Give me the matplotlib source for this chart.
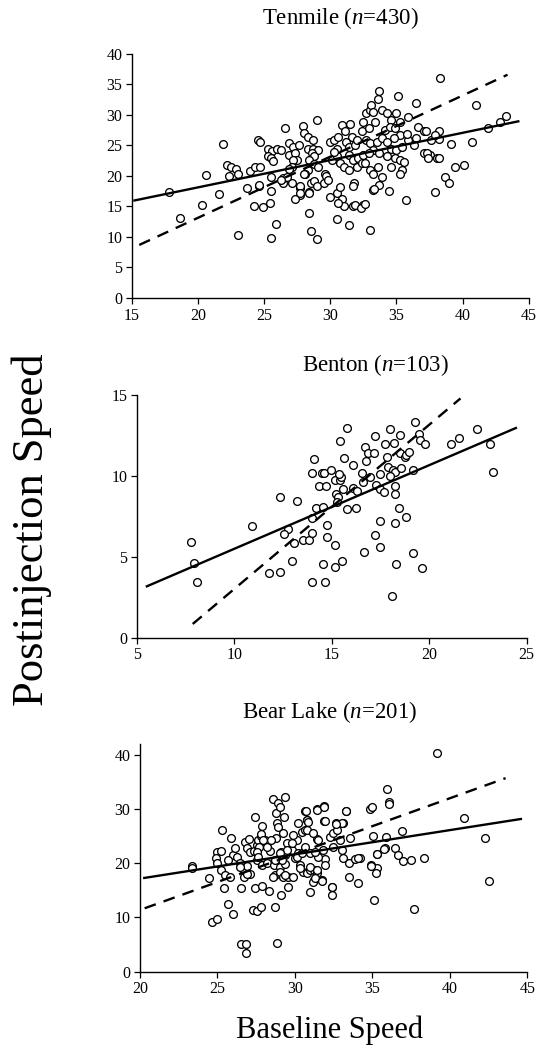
import matplotlib
matplotlib.use("Agg")
import matplotlib.pyplot as plt
import numpy as np

plt.rcParams['font.family'] = ['Liberation Serif', 'DejaVu Serif']
plt.rcParams['mathtext.fontset'] = 'custom'
plt.rcParams['mathtext.rm'] = 'Liberation Serif'
plt.rcParams['mathtext.it'] = 'Liberation Serif:italic'

# ---------------- data ----------------
tenmile_pts = [
(21.9,25.2),(20.6,20.2),(20.3,15.3),(21.6,17.0),(22.2,21.8),(22.5,21.5),(22.9,21.1),(23.0,20.4),(22.3,20.0),(23.0,10.3),
(23.7,18.1),(24.2,15.1),(23.9,20.8),(24.3,21.4),(24.7,21.4),(24.5,25.9),(24.7,25.6),(24.6,18.3),(24.9,14.9),(25.4,15.5),
(25.3,24.4),(25.6,24.1),(26.0,24.5),(26.3,24.2),(25.3,23.2),(25.5,22.9),(25.7,22.5),(25.5,19.8),(25.5,17.5),(25.9,12.1),
(25.5,9.9),(26.6,27.9),(26.4,18.8),(26.4,19.6),(26.9,25.4),(27.2,24.7),(27.6,25.1),(26.9,23.4),(27.3,23.7),(27.5,22.6),
(27.2,22.6),(27.1,21.5),(26.9,21.1),(27.1,18.8),(27.7,18.1),(27.7,16.9),(27.3,16.2),(27.7,18.4),(27.9,28.2),(28.0,27.1),
(28.3,26.4),(28.7,25.9),(28.3,24.5),(28.7,24.5),(29.1,24.3),(28.6,23.7),(28.8,23.3),(28.4,22.6),(28.8,22.0),(29.1,21.5),
(28.3,21.0),(28.1,20.3),(29.0,29.2),(28.5,18.9),(28.8,19.2),(29.0,18.4),(28.4,17.3),(28.4,14.0),(28.5,11.0),(29.0,9.7),
(29.6,20.4),(29.7,20.0),(29.5,18.9),(29.8,19.3),(30.0,25.5),(30.3,25.9),(30.6,26.4),(30.9,28.4),(30.1,22.6),(30.5,23.2),
(30.5,24.5),(30.3,24.0),(30.7,22.1),(31.0,21.5),(30.0,16.6),(30.5,17.2),(30.7,18.2),(30.9,16.2),(31.0,15.0),(30.5,13.0),
(31.4,11.9),(31.1,27.4),(31.5,28.6),(31.6,26.4),(31.2,25.6),(31.4,24.7),(31.9,25.1),(32.0,25.9),(32.4,27.3),(32.5,28.9),
(31.4,23.4),(31.7,22.6),(32.1,22.9),(32.5,23.4),(32.0,21.5),(32.4,22.1),(31.4,21.0),(31.8,18.9),(31.7,18.3),(31.7,15.1),
(31.9,15.3),(32.5,15.2),(32.3,14.7),(32.7,30.3),(33.0,30.8),(33.1,31.6),(33.2,30.5),(32.9,27.8),(33.4,28.9),(33.6,32.7),
(33.7,34.0),(32.7,25.9),(33.0,25.4),(33.5,25.6),(33.9,26.2),(33.2,24.3),(32.9,23.7),(33.7,23.7),(32.6,22.1),(33.0,21.0),
(33.2,20.4),(33.6,21.5),(33.9,19.9),(33.2,17.7),(33.7,18.5),(34.4,17.5),(33.0,11.1),(33.9,30.8),(34.3,30.3),(34.6,29.2),
(35.0,30.4),(35.1,33.1),(34.1,27.5),(34.5,28.1),(34.9,27.8),(35.3,28.9),(35.3,26.7),(34.8,26.2),(34.3,25.6),(34.6,24.5),
(35.0,24.3),(35.4,24.8),(34.3,23.2),(34.9,22.9),(35.3,22.6),(35.6,22.3),(34.6,21.5),(35.4,21.0),(35.3,20.4),(35.7,16.0),
(35.9,29.7),(36.5,31.9),(36.6,28.1),(36.5,26.3),(35.9,25.9),(36.3,25.1),(37.1,27.4),(37.6,25.9),(37.1,23.7),(37.5,23.4),
(37.9,17.4),(38.1,23.0),(38.3,36.0),(41.0,31.6),(43.3,29.9),(42.8,28.8),(41.9,27.8),(40.7,25.6),(39.1,25.3),(38.2,27.3),
(38.2,26.1),(37.2,27.3),(37.9,26.7),(37.3,23.7),(37.4,23.0),(38.2,23.0),(39.4,21.5),(40.1,21.8),(38.7,19.9),(35.8,26.9),
(39.0,18.8),(32.6,15.4),(33.3,17.8),(27.7,17.2),(28.4,17.2),(17.8,17.4),(18.6,13.1),(24.6,18.5),(26.7,19.8),(26.3,19.3),
(28.0,20.4),(30.6,15.5),
]
tenmile_solid_x = [15.1, 44.3]
tenmile_solid_y = [15.95, 29.0]
tenmile_dash_x = [15.55, 43.4]
tenmile_dash_y = [8.7, 36.6]

benton_pts = [
(7.77,5.94),(7.92,4.64),(8.09,3.42),(10.88,6.91),(12.33,8.72),(13.19,8.47),(12.76,6.70),(12.54,6.41),(13.05,5.83),(13.53,6.04),
(13.84,6.04),(12.93,4.76),(11.79,3.98),(12.33,4.08),(13.99,3.46),(13.99,6.49),(14.0,7.38),(14.18,8.0),(13.96,10.2),(14.1,11.07),
(14.35,9.38),(14.64,3.46),(14.55,8.1),(14.47,10.16),(14.6,10.2),(14.98,10.37),(14.72,9.4),(15.44,12.18),(15.78,12.95),(15.63,11.09),
(15.15,9.75),(15.41,9.75),(15.49,9.92),(15.37,10.12),(15.2,8.86),(15.32,8.72),(15.24,8.41),(15.58,9.17),(14.77,6.97),(14.77,6.25),
(15.15,5.73),(14.55,4.54),(15.15,4.39),(15.54,4.74),(16.09,10.68),(16.06,9.24),(16.3,9.09),(15.78,7.94),(16.23,8.0),(16.69,11.8),
(16.86,11.44),(17.15,11.4),(17.2,12.49),(16.74,10.93),(16.57,10.16),(16.95,9.96),(16.6,9.65),(17.29,9.44),(17.46,9.17),(17.66,9.03),
(17.46,10.12),(17.49,7.24),(17.2,6.35),(17.46,5.63),(16.65,5.32),(17.71,11.98),(17.97,12.89),(18.18,12.06),(18.48,12.54),(17.83,11.15),
(17.89,10.53),(18.14,10.37),(18.23,10.27),(18.23,9.38),(18.23,8.86),(18.0,10.0),(18.23,7.11),(18.45,8.0),(18.79,7.48),(18.28,4.54),
(18.09,2.6),(18.57,10.47),(18.48,11.44),(18.74,11.2),(18.83,11.3),(18.96,11.5),(19.17,10.37),(19.25,13.32),(19.48,12.58),(19.51,12.23),
(19.8,11.96),(19.17,5.26),(19.65,4.33),(21.13,11.96),(21.53,12.33),(22.45,12.89),(23.1,11.96),(23.27,10.23),
]
benton_solid_x = [5.45, 24.5]
benton_solid_y = [3.15, 13.0]
benton_dash_x = [7.86, 21.6]
benton_dash_y = [0.85, 14.8]

bear_pts = [
(23.34,19.5),(23.34,19.07),(24.48,17.23),(24.67,9.1),(24.95,9.66),(24.95,22.15),(25.2,22.27),(24.9,20.9),(25.0,20.1),(25.2,18.77),
(25.32,26.15),(25.5,17.84),(25.8,17.53),(25.42,15.5),(25.85,24.73),(25.7,12.5),(26.0,10.6),(26.0,21.5),(26.1,22.76),(26.24,21.2),
(25.7,20.6),(26.45,20.1),(26.67,18.9),(26.9,19.5),(27.1,18.0),(26.52,15.38),(26.5,5.1),(26.84,5.1),(26.84,3.39),(26.78,24.0),
(27.06,24.4),(26.88,22.76),(27.1,22.15),(27.36,22.3),(27.53,23.38),(27.64,24.3),(27.8,25.04),(27.85,26.88),(27.42,28.6),(27.42,15.38),
(27.85,15.81),(27.3,11.4),(27.57,11.2),(27.79,11.88),(27.57,20.6),(27.85,19.7),(28.2,20.1),(28.4,22.3),(28.07,24.3),(28.2,23.7),
(28.35,14.89),(28.71,12.0),(28.86,5.36),(28.6,31.8),(28.93,31.2),(29.36,32.17),(28.78,29.2),(29.04,30.3),(29.32,28.6),(28.86,27.5),
(28.93,26.76),(28.78,24.6),(29.25,25.65),(29.47,23.68),(29.08,22.15),(29.36,21.53),(28.93,20.73),(28.65,19.69),(29.04,19.38),(29.36,19.87),
(28.71,17.84),(29.04,18.46),(29.25,17.53),(29.57,17.53),(29.9,17.53),(29.57,15.69),(29.1,14.15),(29.79,22.45),(30.11,24.3),(30.22,27.37),
(30.43,25.84),(30.65,26.15),(30.76,28.0),(30.65,29.71),(30.22,21.84),(30.0,20.92),(30.33,19.69),(30.54,18.46),(30.76,18.15),(30.97,18.77),
(31.25,18.77),(31.4,18.27),(31.23,16.92),(31.72,16.92),(30.97,14.77),(32.37,15.57),(32.37,14.15),(31.94,20.73),(31.94,19.69),(31.51,21.22),
(31.83,22.45),(31.4,24.42),(31.4,29.96),(31.88,30.57),(31.88,27.87),(32.26,24.92),(32.48,25.53),(32.69,26.15),(32.65,27.37),(33.08,27.37),
(33.27,29.71),(32.48,23.07),(32.91,24.3),(33.02,22.45),(33.12,20.92),(33.55,24.61),(33.51,20.12),(33.88,20.73),(34.2,20.92),(33.51,17.41),
(34.05,16.3),(34.84,29.96),(34.95,30.33),(35.02,25.04),(34.91,19.69),(35.32,19.07),(35.23,18.15),(35.1,13.23),(35.32,21.72),(35.81,22.76),
(35.88,24.92),(35.92,33.65),(36.07,31.37),(36.07,30.94),(36.46,22.88),(36.67,21.53),(40.9,28.42),(42.3,24.6),(42.5,16.8),(36.94,25.96),
(36.99,20.4),(37.48,20.6),(38.32,20.9),(35.76,22.58),(35.31,21.65),(34.88,19.5),(34.08,20.9),(33.29,29.7),(33.07,27.4),(32.64,27.25),
(31.93,27.8),(31.44,29.8),(31.89,30.45),(30.71,29.7),(30.75,27.9),(32.41,15.7),(37.68,11.56),(31.18,16.6),(31.29,17.2),(31.78,16.73),
(30.86,27.68),(30.75,26.15),(31.18,25.53),(31.51,24.3),(29.9,25.22),(29.79,23.68),(29.46,22.45),(29.03,21.84),(29.14,20.61),(28.71,20.61),
(28.6,17.53),(29.36,17.84),(30.11,21.22),(30.43,21.84),(30.65,23.07),(30.97,21.84),(31.29,22.15),(30.97,19.38),(31.4,18.77),(30.32,19.07),
(27.8,25.4),(27.96,24.3),(27.7,22.95),(27.53,22.15),(27.63,21.2),(28.17,23.07),(28.43,24.3),(26.71,17.5),(26.88,18.1),(26.45,19.4),
(39.2,40.3),
]
bear_solid_x = [20.2, 44.66]
bear_solid_y = [17.26, 28.2]
bear_dash_x = [20.3, 43.6]
bear_dash_y = [11.7, 35.7]

titles = ["Tenmile ($n$=430)", "Benton ($n$=103)", "Bear Lake ($n$=201)"]
xticks = [[15, 20, 25, 30, 35, 40, 45], [5, 10, 15, 20, 25], [20, 25, 30, 35, 40, 45]]
yticks = [[0, 5, 10, 15, 20, 25, 30, 35, 40], [0, 5, 10, 15], [0, 10, 20, 30, 40]]
xlims = [(15, 45), (5, 25), (20, 45)]
ylims = [(0, 40), (0, 15), (0, 42)]
ylabel = "Postinjection Speed"
xlabel = "Baseline Speed"

# ---------------- figure ----------------
W, H = 537, 1059
fig = plt.figure(figsize=(W / 100, H / 100), dpi=100)

def px_axes(left, right, top, bottom):
    return [left / W, 1 - bottom / H, (right - left) / W, (bottom - top) / H]

axes_px = [
    (132, 528.7, 54, 298),
    (137, 526.7, 395.2, 637.7),
    (140, 527.3, 744, 971.7),
]
title_px = [(340, 18), (375, 365), (330, 712)]

panels = [
    (tenmile_pts, tenmile_solid_x, tenmile_solid_y, tenmile_dash_x, tenmile_dash_y),
    (benton_pts, benton_solid_x, benton_solid_y, benton_dash_x, benton_dash_y),
    (bear_pts, bear_solid_x, bear_solid_y, bear_dash_x, bear_dash_y),
]

for i, (pts, sx, sy, dx, dy) in enumerate(panels):
    ax = fig.add_axes(px_axes(*axes_px[i]))
    arr = np.array(pts)
    ax.plot(arr[:, 0], arr[:, 1], linestyle='none', marker='o', ms=5.6,
            mfc='white', mec='black', mew=0.95, clip_on=False, zorder=2)
    ax.plot(sx, sy, color='black', lw=1.7, solid_capstyle='butt', zorder=3)
    ax.plot(dx, dy, color='black', lw=1.7, dashes=(5, 3.5), zorder=3)
    ax.set_xlim(*xlims[i])
    ax.set_ylim(*ylims[i])
    ax.set_xticks(xticks[i])
    ax.set_yticks(yticks[i])
    for s in ['top', 'right']:
        ax.spines[s].set_visible(False)
    for s in ['left', 'bottom']:
        ax.spines[s].set_linewidth(1.0)
    ax.tick_params(direction='out', length=4, width=0.9, labelsize=11.5, pad=3)
    ax.patch.set_alpha(0)
    tx, ty = title_px[i]
    fig.text(tx / W, 1 - ty / H, titles[i], ha='center', va='center', fontsize=16.5)

fig.text(32 / W, 1 - 530 / H, ylabel, rotation=90, ha='center', va='center', fontsize=32)
fig.text(330 / W, 1 - 1030 / H, xlabel, ha='center', va='center', fontsize=22)

fig.savefig("out.png", dpi=100)
